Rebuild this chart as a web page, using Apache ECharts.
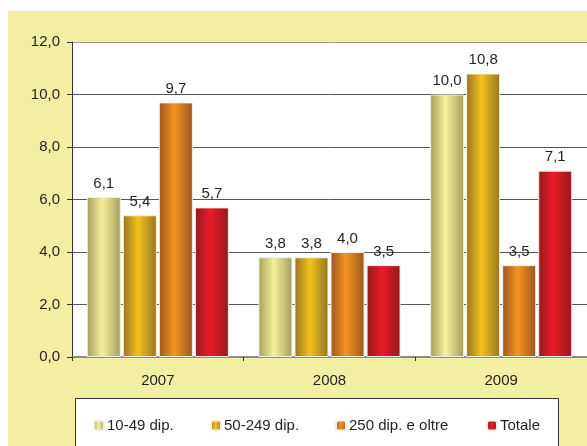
<!DOCTYPE html>
<html>
<head>
<meta charset="UTF-8">
<title></title>
<script src="https://cdn.jsdelivr.net/npm/echarts@6/dist/echarts.min.js"></script>
<style>
	html, body { margin: 0; padding: 0; background: #fff; }
	#bg { position: absolute; left: 8px; top: 11px; width: 579px; height: 435px; background: #f3efa2; }
	#main { position: absolute; left: 0; top: 0; width: 587px; height: 446px; }
</style>
</head>
<body>
<div id="bg"></div>
<div id="main"></div>
<script type="text/javascript">
	// dati
	var anni = ['2007', '2008', '2009'];
	var serieNomi = ['10-49 dip.', '50-249 dip.', '250 dip. e oltre', 'Totale'];
	var v10_49 = [6.1, 3.8, 10.0];
	var v50_249 = [5.4, 3.8, 10.8];
	var v250 = [9.7, 4.0, 3.5];
	var vTotale = [5.7, 3.5, 7.1];
	var yTicks = [0, 2, 4, 6, 8, 10, 12];

	var font = 'Liberation Sans, Arial, sans-serif';

	function grad(dark, light) {
		return new echarts.graphic.LinearGradient(0, 0, 1, 0, [
			{ offset: 0, color: dark },
			{ offset: 0.45, color: light },
			{ offset: 1, color: dark }
		]);
	}
	var colori = [
		grad('#a39f5c', '#f4f09c'),
		grad('#957520', '#f2c21e'),
		grad('#9c5620', '#f39420'),
		grad('#931a1e', '#e81c26')
	];
	var dati = [v10_49, v50_249, v250, vTotale];

	function virgola(v) { return v.toFixed(1).replace('.', ','); }

	var series = dati.map(function(d, i) {
		return {
			name: serieNomi[i],
			type: 'bar',
			data: d,
			barWidth: 34,
			barGap: '6%',
			itemStyle: { color: colori[i], borderColor: '#f2f0e4', borderWidth: 1 },
			label: {
				show: true,
				position: 'top',
				distance: 6,
				color: '#231f20',
				fontFamily: font,
				fontSize: 15,
				formatter: function(p) { return virgola(p.value); }
			}
		};
	});

	// legende separate, una per voce
	var legPos = [93, 210, 335, 486];
	var legende = serieNomi.map(function(n, i) {
		return {
			data: [n],
			left: legPos[i],
			top: 418,
			itemWidth: 10,
			itemHeight: 10,
			itemGap: 0,
			padding: 0,
			textStyle: { fontFamily: font, fontSize: 15, color: '#231f20', padding: [0, 0, 0, -2] }
		};
	});

	var chart = echarts.init(document.getElementById('main'));
	chart.setOption({
		backgroundColor: 'transparent',
		animation: false,
		graphic: [{
			type: 'rect',
			z: 1,
			shape: { x: 75.5, y: 398.5, width: 483, height: 60 },
			style: { fill: '#fff', stroke: '#333', lineWidth: 1 }
		}],
		legend: legende,
		grid: {
			left: 72, top: 42, width: 519, height: 315,
			show: true, backgroundColor: '#fff', borderWidth: 0
		},
		xAxis: {
			type: 'category',
			data: anni,
			axisLine: { lineStyle: { color: '#8a8a8a', width: 2 } },
			axisTick: { show: true, length: 4, lineStyle: { color: '#333' } },
			axisLabel: { margin: 16, fontFamily: font, fontSize: 15, color: '#231f20' }
		},
		yAxis: {
			type: 'value',
			min: yTicks[0],
			max: yTicks[yTicks.length - 1],
			interval: 2,
			axisLine: { show: true, lineStyle: { color: '#333' } },
			axisTick: { show: true, length: 5, lineStyle: { color: '#333' } },
			splitLine: { lineStyle: { color: ['#8a8a8a', '#555', '#555', '#555', '#555', '#555', '#999'] } },
			axisLabel: {
				margin: 12, fontFamily: font, fontSize: 15, color: '#231f20',
				formatter: function(v) { return virgola(v); }
			}
		},
		series: series
	});
</script>
</body>
</html>
